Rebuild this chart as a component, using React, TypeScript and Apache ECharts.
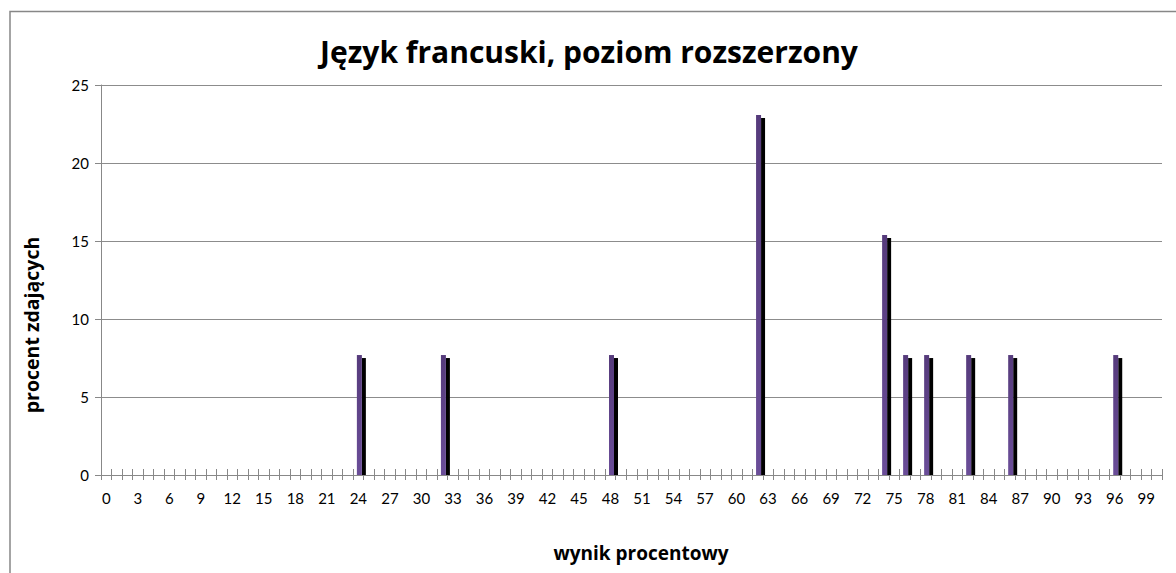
import React, { useEffect, useRef } from "react";
import * as echarts from "echarts";

const categories: string[] = Array.from({ length: 101 }, (_, i) => String(i));
const scoreCats: number[] = [24, 32, 48, 62, 74, 76, 78, 82, 86, 96];
const percents: number[] = [7.69, 7.69, 7.69, 23.08, 15.38, 7.69, 7.69, 7.69, 7.69, 7.69];
const yTicks = { min: 0, max: 25, interval: 5 };
const titleText = "Język francuski, poziom rozszerzony";
const xName = "wynik procentowy";
const yName = "procent zdających";

const FONT = "Lato, 'Open Sans', sans-serif";
const TFONT = "'Open Sans', Lato, sans-serif";

export default function App() {
  const ref = useRef<HTMLDivElement>(null);
  useEffect(() => {
    if (!ref.current) return;
    const chart = echarts.init(ref.current, undefined, { renderer: "svg" });
    const data = scoreCats.map((c, i) => [c, percents[i]]);
    chart.setOption({
      animation: false,
      backgroundColor: "#ffffff",
      grid: { left: 101, top: 85, right: 14, bottom: 98, containLabel: false },
      graphic: [
        {
          type: "rect",
          silent: true,
          shape: { x: 10, y: 11.5, width: 1300, height: 700 },
          style: { fill: "none", stroke: "#878787", lineWidth: 1.5 },
          z: -1,
        },
        {
          type: "text",
          x: 589,
          y: 51,
          style: {
            text: titleText,
            font: `bold 30px ${TFONT}`,
            fill: "#000",
            align: "center",
            verticalAlign: "middle",
          },
        },
        {
          type: "text",
          x: 641,
          y: 553,
          style: {
            text: xName,
            font: `bold 19px ${TFONT}`,
            fill: "#000",
            align: "center",
            verticalAlign: "middle",
          },
        },
        {
          type: "text",
          x: 31,
          y: 325,
          rotation: Math.PI / 2,
          style: {
            text: yName,
            font: `bold 19.5px ${TFONT}`,
            fill: "#000",
            align: "center",
            verticalAlign: "middle",
          },
        },
      ],
      xAxis: [
        {
          type: "category",
          data: categories,
          position: "bottom",
          boundaryGap: true,
          axisLine: { show: true, lineStyle: { color: "#888", width: 1 } },
          axisTick: { show: true, interval: 0, length: 5, inside: false, lineStyle: { color: "#888" } },
          axisLabel: { interval: 2, margin: 15, fontSize: 15, color: "#000", fontFamily: FONT },
          splitLine: { show: false },
        },
        {
          type: "category",
          data: categories,
          position: "bottom",
          boundaryGap: true,
          axisLine: { show: false },
          axisTick: { show: true, interval: 0, length: 6, inside: true, lineStyle: { color: "#888" } },
          axisLabel: { show: false },
          splitLine: { show: false },
        },
      ],
      yAxis: {
        type: "value",
        min: yTicks.min,
        max: yTicks.max,
        interval: yTicks.interval,
        axisLine: { show: true, lineStyle: { color: "#888" } },
        axisTick: { show: true, length: 6, lineStyle: { color: "#888" } },
        axisLabel: { margin: 12, fontSize: 15, color: "#000", fontFamily: FONT },
        splitLine: { show: true, lineStyle: { color: "#8c8c8c", width: 1 } },
      },
      series: [
        {
          type: "custom",
          xAxisIndex: 0,
          yAxisIndex: 0,
          data,
          renderItem: (params: any, api: any) => {
            const top = api.coord([api.value(0), api.value(1)]);
            const base = api.coord([api.value(0), 0]);
            const cx = top[0] + 1;
            const h = base[1] - top[1];
            return {
              type: "group",
              children: [
                {
                  type: "rect",
                  shape: { x: cx + 2.5, y: top[1] + 3, width: 4, height: h - 3 },
                  style: { fill: "#000000" },
                },
                {
                  type: "rect",
                  shape: { x: cx - 2.5, y: top[1], width: 5, height: h },
                  style: {
                    fill: new echarts.graphic.LinearGradient(0, 0, 0, 1, [
                      { offset: 0, color: "#563b7c" },
                      { offset: 1, color: "#6a4d98" },
                    ]),
                  },
                },
              ],
            };
          },
          encode: { x: 0, y: 1 },
        },
      ],
    });
    return () => chart.dispose();
  }, []);
  return (
    <div
      ref={ref}
      style={{ position: "absolute", left: 0, top: 0, width: 1176, height: 573 }}
    />
  );
}
